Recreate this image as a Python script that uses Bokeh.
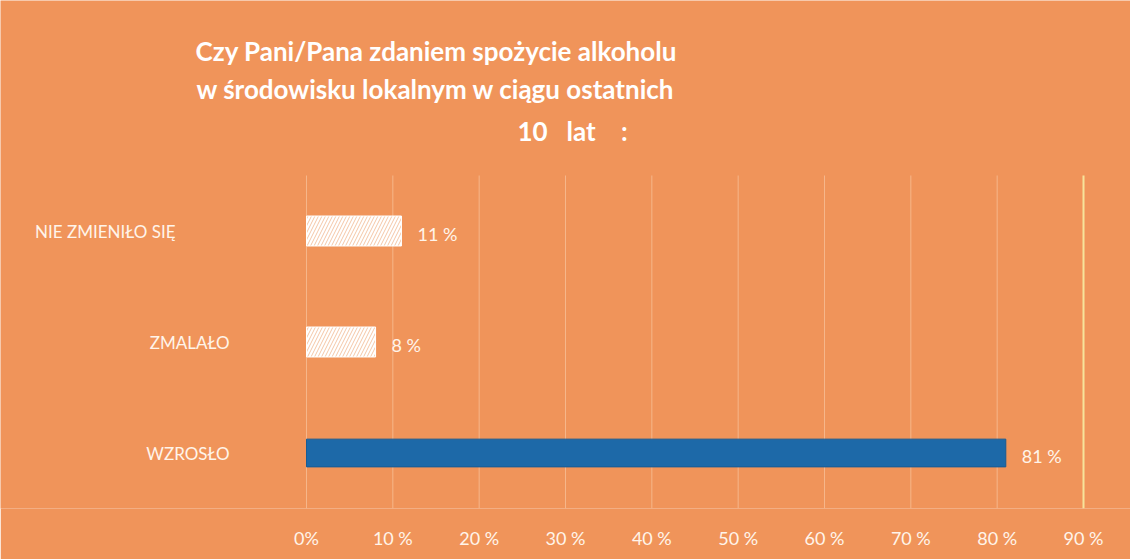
from bokeh.plotting import figure
from bokeh.models import Range1d, ColumnDataSource, FixedTicker, Label
from bokeh.core.properties import value
from bokeh.embed import file_html
from bokeh.resources import INLINE

# ---- data ----
categories = ["NIE ZMIENIŁO SIĘ", "ZMALAŁO", "WZROSŁO"]
percents = [11, 8, 81]
value_labels = ["11 %", "8 %", "81 %"]
tick_values = [0, 10, 20, 30, 40, 50, 60, 70, 80, 90]
tick_labels = ["0%", "10 %", "20 %", "30 %", "40 %", "50 %", "60 %", "70 %", "80 %", "90 %"]
title_lines = ["Czy Pani/Pana zdaniem spożycie alkoholu",
               "w środowisku lokalnym w ciągu ostatnich",
               "10\u00a0\u00a0\u00a0lat\u00a0\u00a0\u00a0\u00a0:"]

# ---- style / layout ----
ORANGE = "#F0945A"
BLUE = "#1D69A8"
CREAM = "#FFF4EA"
FONT = "Lato"
W, H = 1130, 559
BOTTOM_BORDER = 51
ZERO_PX = 306            # x pixel of 0 %
NINETY_PX = 1083         # x pixel of 90 %
PLOT_TOP_PX = 175        # top of the bar area
PLOT_BOTTOM_PX = H - BOTTOM_BORDER
frame_h = PLOT_BOTTOM_PX
px_per_unit = (NINETY_PX - ZERO_PX) / 90.0
x_start = -ZERO_PX / px_per_unit
x_end = x_start + W / px_per_unit
n = len(categories)
px_per_cat = (PLOT_BOTTOM_PX - PLOT_TOP_PX) / n
y_lo = -0.5
y_hi = y_lo + frame_h / px_per_cat
cat_top = n - 0.5

# category index: bottom-most is WZROSŁO
cat_pos = {c: n - 1 - i for i, c in enumerate(categories)}
ypos = [cat_pos[c] for c in categories]

p = figure(width=W, height=H,
           x_range=Range1d(x_start, x_end), y_range=Range1d(y_lo, y_hi),
           output_backend="svg", toolbar_location=None,
           min_border_left=0, min_border_right=0,
           min_border_top=0, min_border_bottom=BOTTOM_BORDER)
p.background_fill_color = ORANGE
p.border_fill_color = ORANGE
p.outline_line_color = None
p.yaxis.visible = False
p.grid.visible = False

p.xaxis.ticker = FixedTicker(ticks=tick_values)
p.xaxis.major_label_overrides = {t: l for t, l in zip(tick_values, tick_labels)}
p.xaxis.axis_line_color = None
p.xaxis.major_tick_line_color = None
p.xaxis.minor_tick_line_color = None
p.xaxis.major_label_standoff = 12
p.xaxis.major_label_text_font = FONT
p.xaxis.major_label_text_font_size = "18px"
p.xaxis.major_label_text_color = CREAM

# vertical grid lines limited to the bar area
grid_x = tick_values[:-1]
p.segment(x0=grid_x, x1=grid_x, y0=[y_lo] * len(grid_x), y1=[cat_top] * len(grid_x),
          line_color="#F6B68A", line_width=1)
p.segment(x0=[tick_values[-1]], x1=[tick_values[-1]], y0=[y_lo], y1=[cat_top],
          line_color="#F7E39A", line_width=2)

hatched = [i for i, c in enumerate(categories) if c != "WZROSŁO"]
solid = [i for i, c in enumerate(categories) if c == "WZROSŁO"]
src_h = ColumnDataSource(dict(y=[ypos[i] for i in hatched], r=[percents[i] for i in hatched]))
src_s = ColumnDataSource(dict(y=[ypos[i] for i in solid], r=[percents[i] for i in solid]))

p.hbar(y="y", right="r", left=0, height=0.27, source=src_h,
       fill_color="white", line_color="white", line_width=1,
       hatch_pattern="right_diagonal_line", hatch_color="#F4C6A6",
       hatch_scale=7, hatch_weight=1)
p.hbar(y="y", right="r", left=0, height=0.25, source=src_s,
       fill_color=BLUE, line_color="#185C94", line_width=1)

p.text(x=percents, y=ypos, text=value_labels, x_offset=16, y_offset=3,
       text_baseline="middle", text_align="left",
       text_font=value(FONT), text_font_size="18px", text_color=CREAM)

label_shift = [-131, -77, -77]
p.text(x=[0] * n, y=ypos, text=categories, x_offset=label_shift,
       text_baseline="middle", text_align="right",
       text_font=value(FONT), text_font_size="17px", text_color=CREAM)

# title lines (screen units measured from the frame's bottom-left corner)
title_x = [195, 196, 517]
title_y = [50, 88, 130]
for t, tx, ty in zip(title_lines, title_x, title_y):
    p.add_layout(Label(x=tx, y=frame_h - ty, x_units="screen", y_units="screen",
                       text=t, text_align="left", text_baseline="middle",
                       text_font=FONT, text_font_style="bold",
                       text_font_size="26px", text_color="white"))

open("out.html", "w").write(file_html(p, INLINE))
